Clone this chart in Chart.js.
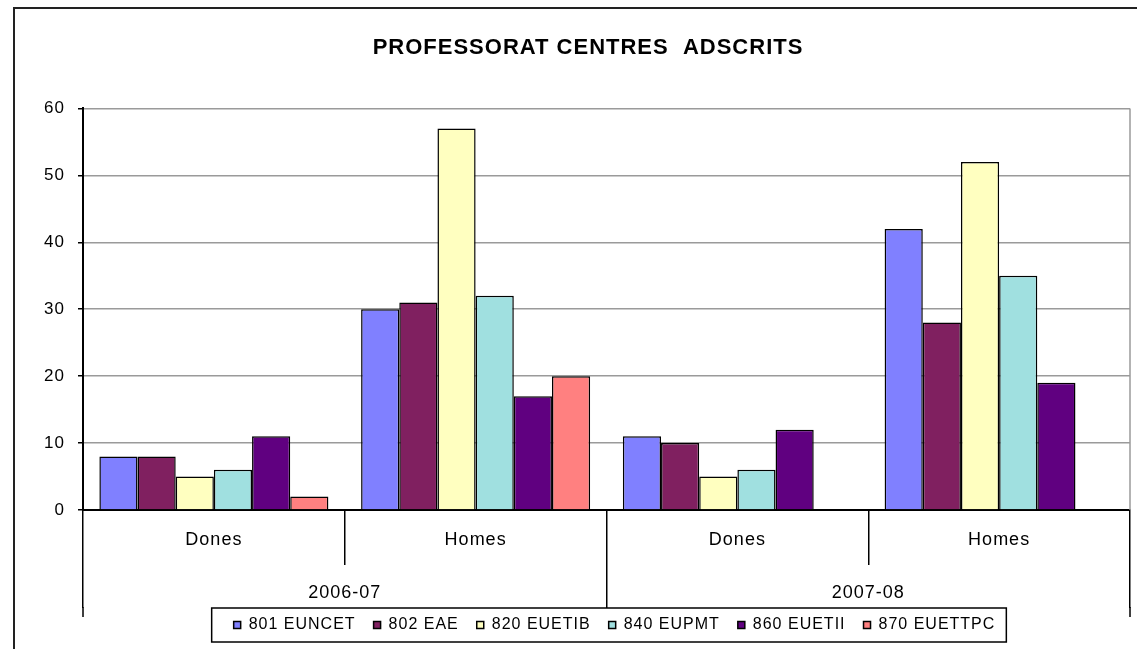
<!DOCTYPE html>
<html>
<head>
<meta charset="utf-8">
<title>Professorat centres adscrits</title>
<script src="https://cdn.jsdelivr.net/npm/chart.js@4.4.1/dist/chart.umd.min.js"></script>
<style>
  html, body { margin: 0; padding: 0; background: #fff; }
  #chart { display: block; }
</style>
</head>
<body>
<canvas id="chart" width="1137" height="649"></canvas>
<script>
var chartTitle = 'PROFESSORAT CENTRES  ADSCRITS';
var categories = ['Dones', 'Homes', 'Dones', 'Homes'];
var years = ['2006-07', '2007-08'];
var yTicks = [0, 10, 20, 30, 40, 50, 60];

var seriesNames = ['801 EUNCET', '802 EAE', '820 EUETIB', '840 EUPMT', '860 EUETII', '870 EUETTPC'];
var euncet = [8, 30, 11, 42];
var eae = [8, 31, 10, 28];
var euetib = [5, 57, 5, 52];
var eupmt = [6, 32, 6, 35];
var euetii = [11, 17, 12, 19];
var euettpc = [2, 20, null, null];
var seriesColors = ['#8080ff', '#802060', '#ffffc0', '#a0e0e0', '#600080', '#ff8080'];

var fontFamily = "'Liberation Sans', Arial, sans-serif";

function makeDatasets() {
  var values = [euncet, eae, euetib, eupmt, euetii, euettpc];
  var sets = [];
  for (var i = 0; i < values.length; i++) {
    sets.push({
      label: seriesNames[i],
      data: values[i],
      backgroundColor: seriesColors[i],
      borderColor: '#000',
      borderWidth: 1.5,
      categoryPercentage: 0.875,
      barPercentage: 1.0
    });
  }
  return sets;
}

// excel look: outer frame, plot frame, legend box, wider letters
var excelFrame = {
  id: 'excelFrame',
  beforeUpdate: function(chart) {
    chart.ctx.letterSpacing = '1px';
  },
  afterLayout: function(chart) {
    // the excel chart object is wider than the picture, so title and legend sit right of centre
    chart.titleBlock.left = 46;
    chart.legend.left += 8;
    chart.legend.right += 8;
  },
  beforeDraw: function(chart) {
    var ctx = chart.ctx;
    ctx.letterSpacing = '1px';
    ctx.save();
    ctx.strokeStyle = '#222';
    ctx.lineWidth = 2;
    ctx.beginPath();
    ctx.moveTo(14, chart.height);
    ctx.lineTo(14, 8);
    ctx.lineTo(chart.width, 8);
    ctx.stroke();

    // outer year separators run a bit further down than the middle one
    var x2 = chart.scales.x2;
    var tickEnd = x2.top + x2.options.grid.tickLength;
    ctx.strokeStyle = '#000';
    ctx.lineWidth = 1.5;
    ctx.beginPath();
    ctx.moveTo(x2.left, tickEnd - 1);
    ctx.lineTo(x2.left, tickEnd + 9);
    ctx.moveTo(x2.right, tickEnd - 1);
    ctx.lineTo(x2.right, tickEnd + 9);
    ctx.stroke();

    // legend box
    var boxes = chart.legend.legendHitBoxes;
    if (boxes && boxes.length) {
      var first = boxes[0];
      var last = boxes[boxes.length - 1];
      var bx0 = first.left - 22;
      var bx1 = last.left + last.width + 11;
      var by0 = chart.legend.top + 9;
      ctx.fillStyle = '#fff';
      ctx.fillRect(bx0, by0, bx1 - bx0, 34);
      ctx.strokeStyle = '#000';
      ctx.lineWidth = 1.5;
      ctx.strokeRect(bx0, by0, bx1 - bx0, 34);
    }
    ctx.restore();
  },
  beforeDatasetsDraw: function(chart) {
    var a = chart.chartArea;
    var ctx = chart.ctx;
    ctx.save();
    ctx.strokeStyle = '#9a9a9a';
    ctx.lineWidth = 1.5;
    ctx.beginPath();
    ctx.moveTo(a.right, a.top);
    ctx.lineTo(a.right, a.bottom);
    ctx.stroke();
    ctx.restore();
  }
};

var canvas = document.getElementById('chart');
new Chart(canvas, {
  type: 'bar',
  data: {
    labels: categories,
    datasets: makeDatasets()
  },
  plugins: [excelFrame],
  options: {
    responsive: false,
    animation: false,
    events: [],
    layout: { padding: { left: 0, right: 7, top: 0, bottom: 6 } },
    scales: {
      x: {
        position: 'bottom',
        weight: 1,
        offset: true,
        grid: {
          offset: true,
          drawOnChartArea: false,
          drawTicks: true,
          tickLength: 55,
          color: '#000',
          tickColor: '#000',
          lineWidth: 1.5
        },
        border: { display: true, color: '#000', width: 2 },
        ticks: {
          autoSkip: false,
          maxRotation: 0,
          padding: -36,
          color: '#000',
          font: { family: fontFamily, size: 18 }
        },
        afterFit: function(scale) { scale.height = 55; }
      },
      x2: {
        type: 'category',
        labels: years,
        position: 'bottom',
        weight: 2,
        offset: true,
        grid: {
          offset: true,
          drawOnChartArea: false,
          drawTicks: true,
          tickLength: 43,
          color: '#000',
          tickColor: '#000',
          lineWidth: 1.5
        },
        border: { display: false },
        ticks: {
          autoSkip: false,
          maxRotation: 0,
          padding: -26,
          color: '#000',
          font: { family: fontFamily, size: 18 }
        },
        afterFit: function(scale) { scale.height = 34; }
      },
      y: {
        position: 'left',
        min: yTicks[0],
        max: yTicks[yTicks.length - 1],
        grid: {
          color: '#9a9a9a',
          tickColor: '#000',
          tickLength: 5,
          lineWidth: 1.5
        },
        border: { display: true, color: '#000', width: 2 },
        ticks: {
          stepSize: yTicks[1] - yTicks[0],
          padding: 13,
          color: '#000',
          font: { family: fontFamily, size: 17 }
        },
        afterFit: function(scale) { scale.width = 83; }
      }
    },
    plugins: {
      title: {
        display: true,
        text: chartTitle,
        color: '#000',
        font: { family: fontFamily, size: 22, weight: 'bold' },
        padding: { top: 35, bottom: 47 }
      },
      legend: {
        position: 'bottom',
        fullSize: false,
        labels: {
          boxWidth: 7,
          boxHeight: 7,
          padding: 18,
          color: '#000',
          font: { family: fontFamily, size: 16 }
        }
      },
      tooltip: { enabled: false }
    }
  }
});
</script>
</body>
</html>
